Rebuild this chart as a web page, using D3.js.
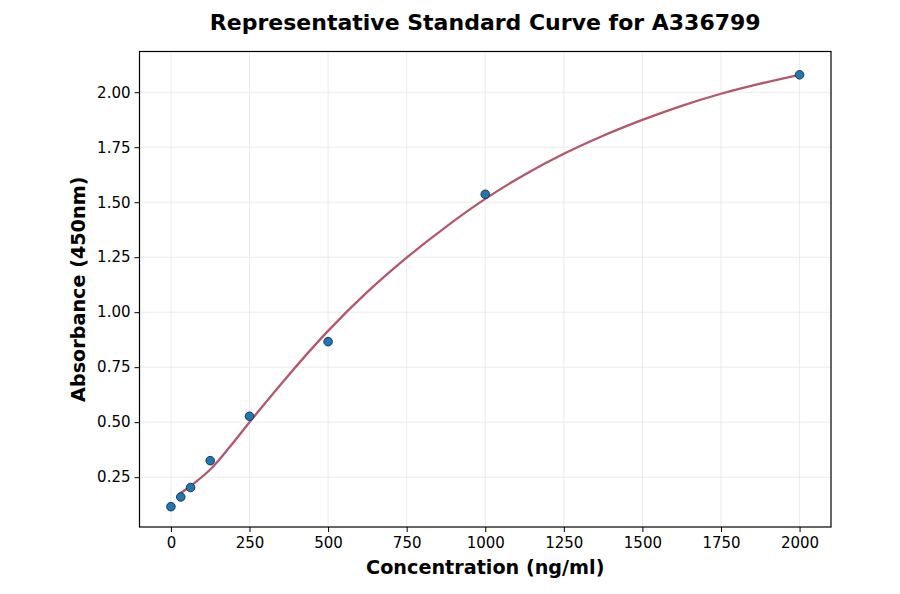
<!DOCTYPE html>
<html><head><meta charset="utf-8">
<script src="https://cdn.jsdelivr.net/npm/d3@7"></script>
<style>body{margin:0;background:#fff}svg{display:block}text{font-family:"DejaVu Sans",sans-serif}</style>
</head><body><svg id="c" width="900" height="594"></svg>
<script>
const concentrations = [0, 31.25, 62.5, 125, 250, 500, 1000, 2000];
const absorbances = [0.116, 0.16, 0.203, 0.325, 0.527, 0.866, 1.536, 2.079];
const curveX = [25, 62.5, 125, 187.5, 250, 375, 500, 625, 750, 875, 1000, 1125, 1250, 1375, 1500, 1625, 1750, 1875, 2000];
const curveY = [0.172, 0.21, 0.285, 0.388, 0.50, 0.715, 0.915, 1.092, 1.248, 1.388, 1.515, 1.625, 1.72, 1.802, 1.874, 1.938, 1.993, 2.039, 2.079];
const xTicks = [0, 250, 500, 750, 1000, 1250, 1500, 1750, 2000];
const yTicks = [0.25, 0.5, 0.75, 1.0, 1.25, 1.5, 1.75, 2.0];

const svg = d3.select("#c");
const L = 139.5, R = 831, T = 51.5, B = 527;
const x = d3.scaleLinear().domain([-100, 2100]).range([L, R]);
const y = d3.scaleLinear().domain([0.0235, 2.185]).range([B, T]);

// grid
svg.append("g").selectAll("line").data(xTicks).join("line")
  .attr("x1", d => x(d)).attr("x2", d => x(d)).attr("y1", T).attr("y2", B)
  .attr("stroke", "#e6e6e6").attr("stroke-width", 0.8);
svg.append("g").selectAll("line").data(yTicks).join("line")
  .attr("y1", d => y(d)).attr("y2", d => y(d)).attr("x1", L).attr("x2", R)
  .attr("stroke", "#e6e6e6").attr("stroke-width", 0.8);

// axes
const xa = svg.append("g").attr("transform", `translate(0,${B})`)
  .call(d3.axisBottom(x).tickValues(xTicks).tickFormat(d3.format("d")).tickSize(5).tickPadding(5));
const ya = svg.append("g").attr("transform", `translate(${L},0)`)
  .call(d3.axisLeft(y).tickValues(yTicks).tickFormat(d3.format(".2f")).tickSize(5).tickPadding(4));
[xa, ya].forEach(a => {
  a.select(".domain").remove();
  a.selectAll("line").attr("stroke", "#000").attr("stroke-width", 1);
  a.selectAll("text").attr("font-size", 15).attr("fill", "#000").attr("font-family", "DejaVu Sans");
});

// curve
const line = d3.line().x((d, i) => x(curveX[i])).y(d => y(d)).curve(d3.curveCatmullRom.alpha(0.5));
svg.append("path").attr("d", line(curveY)).attr("fill", "none")
  .attr("stroke", "#b5566b").attr("stroke-width", 2.3);

// points
svg.append("g").selectAll("circle").data(concentrations).join("circle")
  .attr("cx", d => x(d)).attr("cy", (d, i) => y(absorbances[i])).attr("r", 4.3)
  .attr("fill", "#1f77b4").attr("stroke", "#1a2a3a").attr("stroke-width", 0.9);

// frame
svg.append("rect").attr("x", L).attr("y", T).attr("width", R - L).attr("height", B - T)
  .attr("fill", "none").attr("stroke", "#000").attr("stroke-width", 1.2);

// texts
svg.append("text").attr("x", (L + R) / 2).attr("y", 30).attr("text-anchor", "middle")
  .attr("font-size", 22).attr("font-weight", "bold").text("Representative Standard Curve for A336799");
svg.append("text").attr("x", (L + R) / 2).attr("y", 574).attr("text-anchor", "middle")
  .attr("font-size", 19.2).attr("font-weight", "bold").text("Concentration (ng/ml)");
svg.append("text").attr("transform", `translate(85,${(T + B) / 2}) rotate(-90)`).attr("text-anchor", "middle")
  .attr("font-size", 19.2).attr("font-weight", "bold").text("Absorbance (450nm)");
</script></body></html>
